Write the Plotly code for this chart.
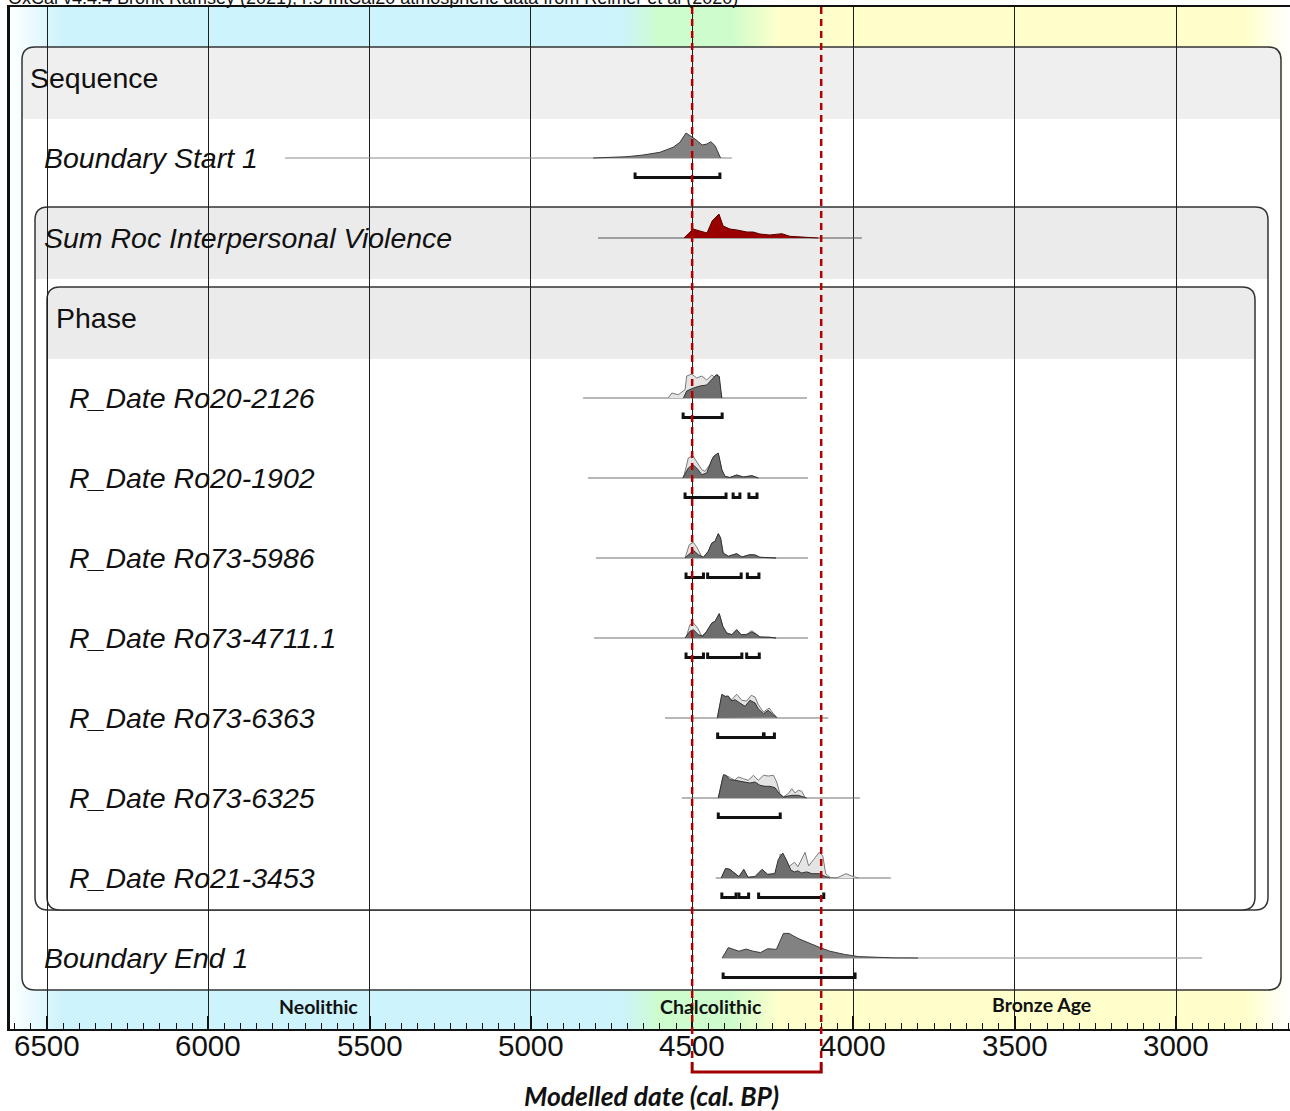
import plotly.graph_objects as go

# ------------------------------------------------------------------ data
AXIS_TICKS = [6500, 6000, 5500, 5000, 4500, 4000, 3500, 3000]
X_RANGE = [6614.7, 2646.7]          # cal BP shown from left to right edge
HIGHLIGHT = [4500, 4100]            # red dashed interval (cal BP)

ERAS = ["Neolithic", "Chalcolithic", "Bronze Age"]
ERA_LABEL_X = [5657, 4442, 3418]
ERA_STOP_YEARS = [6615, 6450, 4720, 4600, 4380, 4230, 2780, 2647]
ERA_STOP_COLORS = ["#ffffff", "#cdf3fc", "#cdf3fc", "#cdfccd",
                   "#cefccc", "#ffffcc", "#ffffcc", "#ffffff"]

HEADER_TEXT = ("OxCal v4.4.4 Bronk Ramsey (2021); r:5 IntCal20 atmospheric "
               "data from Reimer et al (2020)")

# Boundary Start 1
BS_SPAN = [5762, 4377]
BS_YR = [4807, 4702, 4652, 4600, 4559, 4538, 4519, 4491, 4469, 4454, 4442, 4429, 4412]
BS_P = [0, 1.3, 3, 5.7, 10.7, 15.7, 25, 19, 13, 14, 16.3, 12.3, 0]
BS_HPD = [(4677, 4414)]

# Sum Roc Interpersonal Violence
SUM_SPAN = [4792, 3974]
SUM_YR = [4525, 4497, 4476, 4454, 4438, 4417, 4404, 4383, 4361, 4330, 4311, 4290,
          4259, 4222, 4197, 4144, 4110]
SUM_P = [0, 9, 7, 5, 17, 24, 12, 9, 8, 6, 6, 4, 3, 4.3, 1.7, 0.3, 0]

# R_Date Ro20-2126
R1_SPAN = [4838, 4144]
R1_LIK_YR = [4574, 4563, 4543, 4522, 4517, 4501, 4486, 4470, 4455, 4439, 4431, 4422, 4408]
R1_LIK_P = [0, 5, 3.3, 8.3, 22, 24, 20, 22, 18, 23, 21, 24, 0]
R1_POST_YR = [4527, 4517, 4496, 4476, 4455, 4439, 4426, 4416, 4408]
R1_POST_P = [0, 7, 10, 12, 13, 18, 23, 21.7, 0]
R1_HPD = [(4528, 4407)]

# R_Date Ro20-1902
R2_SPAN = [4823, 4141]
R2_LIK_YR = [4527, 4512, 4498, 4486, 4470, 4460, 4445, 4434, 4419, 4408, 4401, 4383, 4362,
             4341, 4315, 4295]
R2_LIK_P = [0, 20, 22.3, 16.7, 8.3, 6.7, 13.3, 21.7, 24, 8.3, 1.7, 0.5, 3, 1, 2.3, 0]
R2_POST_YR = [4529, 4512, 4498, 4486, 4470, 4455, 4439, 4431, 4419, 4408, 4398, 4383, 4362,
              4341, 4315, 4295]
R2_POST_P = [0, 10, 13.3, 10, 3.3, 5, 18.3, 22.3, 25, 8.3, 1.7, 0.5, 3, 1, 2.3, 0]
R2_HPD = [(4522, 4395), (4373, 4352), (4324, 4299)]

# R_Date Ro73-5986
R3_SPAN = [4798, 4141]
R3_LIK_YR = [4522, 4509, 4496, 4484, 4470, 4465, 4450, 4439, 4429, 4419, 4412, 4404, 4388,
             4362, 4346, 4321, 4305, 4290, 4259, 4240]
R3_LIK_P = [0, 13.3, 15.7, 10, 1, 0.7, 6.7, 15, 16.7, 24.3, 20, 5, 1.7, 4.3, 1, 3.3, 3, 0.7, 0.3, 0]
R3_POST_YR = [4522, 4507, 4496, 4481, 4465, 4450, 4439, 4429, 4419, 4412, 4404, 4388, 4362,
              4346, 4321, 4305, 4290, 4259, 4240]
R3_POST_P = [0, 5, 7.7, 3.3, 0.7, 6.7, 15, 16.7, 24.3, 20, 5, 1.7, 4.3, 1, 3.3, 3, 0.7, 0.3, 0]
R3_HPD = [(4519, 4465), (4452, 4348), (4329, 4293)]

# R_Date Ro73-4711.1
R4_SPAN = [4804, 4141]
R4_LIK_YR = [4519, 4507, 4496, 4483, 4470, 4455, 4439, 4429, 4416, 4405, 4393, 4377, 4362,
             4348, 4331, 4315, 4300, 4290, 4259, 4240]
R4_LIK_P = [0, 13.3, 15, 10, 1.7, 6.7, 15, 16.7, 24.3, 11.7, 5, 3.3, 8.3, 3.3, 3.8, 7.3, 3.8, 1, 0.7, 0]
R4_POST_YR = [4522, 4507, 4496, 4481, 4467, 4455, 4439, 4429, 4416, 4405, 4393, 4377, 4362,
              4348, 4331, 4315, 4300, 4290, 4259, 4240]
R4_POST_P = [0, 6.7, 8.3, 3.3, 1.7, 6.7, 15, 16.7, 24.3, 11.7, 5, 3.3, 8.3, 3.3, 3.3, 6, 3.3, 1, 0.7, 0]
R4_HPD = [(4519, 4465), (4452, 4346), (4331, 4292)]

# R_Date Ro73-6363
R5_SPAN = [4584, 4078]
R5_LIK_YR = [4422, 4408, 4393, 4377, 4362, 4346, 4331, 4317, 4305, 4295, 4279, 4261, 4248, 4236]
R5_LIK_P = [0, 22.7, 21, 18.3, 23.7, 17.7, 17, 22.7, 21, 13.3, 6, 10, 4.3, 0.3]
R5_POST_YR = [4422, 4408, 4398, 4388, 4377, 4367, 4352, 4336, 4321, 4305, 4295, 4279, 4264,
              4248, 4238]
R5_POST_P = [0, 23.7, 21.7, 22, 17, 18.3, 15, 11.7, 17.7, 15, 9.3, 4.3, 7.7, 2.7, 0.3]
R5_HPD = [(4421, 4279), (4277, 4245)]

# R_Date Ro73-6325
R6_SPAN = [4532, 3980]
R6_LIK_YR = [4419, 4405, 4398, 4385, 4369, 4357, 4341, 4326, 4310, 4295, 4279, 4264, 4248,
             4238, 4228, 4217, 4202, 4191, 4181, 4171, 4160, 4150]
R6_LIK_P = [0, 21, 22.7, 21, 17.7, 21, 19.3, 17.7, 22.7, 17.7, 22.7, 22, 22.7, 16, 4.3, 1,
            4.3, 9.3, 5, 7.7, 6.7, 0.3]
R6_POST_YR = [4419, 4403, 4395, 4383, 4367, 4352, 4336, 4321, 4305, 4290, 4274, 4259, 4243,
              4230, 4217, 4191, 4171, 4155, 4145]
R6_POST_P = [0, 23.3, 22.7, 18.3, 17.7, 17, 16, 15, 16, 12.7, 11.7, 11.7, 10.3, 4.3, 1, 2.7,
             2.7, 1, 0]
R6_HPD = [(4419, 4227)]

# R_Date Ro21-3453
R7_SPAN = [4427, 3884]
R7_LIK_YR = [4410, 4396, 4383, 4366, 4355, 4340, 4327, 4305, 4283, 4266, 4244, 4233, 4227,
             4214, 4200, 4183, 4172, 4150, 4139, 4123, 4106, 4095, 4086, 4073, 4052, 4023,
             4001, 3984]
R7_LIK_P = [0, 9.6, 8.6, 4.3, 1.4, 8.6, 0.7, 1.4, 8.6, 3.6, 4.3, 12, 24, 20.4, 11.4, 15.7,
            11.4, 25.7, 12.1, 18.6, 25.7, 22, 4.3, 0.7, 0, 4.3, 1.4, 0]
R7_POST_YR = [4410, 4396, 4383, 4366, 4355, 4340, 4327, 4305, 4283, 4266, 4244, 4233, 4219,
              4206, 4194, 4183, 4172, 4161, 4145, 4128, 4106, 4089, 4073]
R7_POST_P = [0, 9.6, 8.6, 4.3, 1.4, 8.6, 0.7, 1.4, 8.6, 3.6, 4.3, 18.6, 25, 16.8, 7.9, 6.1,
             7.1, 5, 6.1, 4.3, 4.3, 1.8, 0]
R7_HPD = [(4408, 4364), (4355, 4325), (4294, 4092)]

# Boundary End 1
BE_SPAN = [4407, 2919]
BE_YR = [4407, 4388, 4355, 4333, 4311, 4288, 4266, 4239, 4217, 4200, 4172, 4139, 4106, 4073,
         4028, 3984, 3929, 3874, 3800]
BE_P = [0, 10.4, 6.8, 8.9, 6.8, 5.4, 9.3, 8.6, 24.6, 24.6, 19.6, 15, 10.7, 6.8, 3.6, 1.4,
        0.4, 0.1, 0]
BE_HPD = [(4404, 3995)]

R_LABELS = ["R_Date Ro20-2126", "R_Date Ro20-1902", "R_Date Ro73-5986",
            "R_Date Ro73-4711.1", "R_Date Ro73-6363", "R_Date Ro73-6325",
            "R_Date Ro21-3453"]

# ------------------------------------------------------------------ layout helpers
FIG_W, FIG_H = 1290, 1111
PL, PT, PB = 10, 7, 1029            # plot area: left px, top px, bottom px
ROW0, ROW_STEP = 158, 80            # row baselines (y axis is in pixel rows)
P_SCALE = 1.0                        # px per probability unit
HPD_OFF, HPD_TICK = 19.5, 5

def px_year(px):
    return X_RANGE[0] + (px - PL) * (X_RANGE[1] - X_RANGE[0]) / (FIG_W - PL)

def year_paper(yr):
    return (yr - X_RANGE[0]) / (X_RANGE[1] - X_RANGE[0])

def py_paper(py):
    return (PB - py) / (PB - PT)

def hexrgb(h):
    h = h.lstrip('#')
    return [int(h[i:i + 2], 16) for i in (0, 2, 4)]

def era_color(yr):
    ys, cs = ERA_STOP_YEARS, ERA_STOP_COLORS
    for i in range(len(ys) - 1):
        if ys[i] >= yr >= ys[i + 1]:
            t = (ys[i] - yr) / (ys[i] - ys[i + 1])
            a, b = hexrgb(cs[i]), hexrgb(cs[i + 1])
            c = [round(a[k] + (b[k] - a[k]) * t) for k in range(3)]
            return "rgb(%d,%d,%d)" % tuple(c)
    return cs[-1]

def rrect(x0, x1, y0, y1, r, square_bottom=False):
    X = px_year
    p = f"M {X(x0)},{y0 + r} Q {X(x0)},{y0} {X(x0 + r)},{y0} L {X(x1 - r)},{y0} "
    p += f"Q {X(x1)},{y0} {X(x1)},{y0 + r} "
    if square_bottom:
        p += f"L {X(x1)},{y1} L {X(x0)},{y1} Z"
    else:
        p += (f"L {X(x1)},{y1 - r} Q {X(x1)},{y1} {X(x1 - r)},{y1} "
              f"L {X(x0 + r)},{y1} Q {X(x0)},{y1} {X(x0)},{y1 - r} Z")
    return p

shapes = []
# era background gradient
STEP = 12
yr = ERA_STOP_YEARS[0]
while yr > ERA_STOP_YEARS[-1] - STEP:
    shapes.append(dict(type="rect", xref="x", yref="y", x0=yr + 1, x1=yr - STEP - 1,
                       y0=PT, y1=PB, line=dict(width=0), fillcolor=era_color(yr - STEP / 2),
                       layer="below"))
    yr -= STEP

BOXES = [  # x0, x1, y0, y1, header bottom, header color
    (22, 1281, 47, 990, 119, "#efefef"),
    (35, 1268, 207, 910, 279, "#ebebeb"),
    (47, 1255, 287, 910, 359, "#ebebeb"),
]
for x0, x1, y0, y1, hb, hc in BOXES:
    shapes.append(dict(type="path", xref="x", yref="y", path=rrect(x0, x1, y0, y1, 13),
                       fillcolor="white", line=dict(width=0), layer="below"))
    shapes.append(dict(type="path", xref="x", yref="y",
                       path=rrect(x0, x1, y0, hb, 13, square_bottom=True),
                       fillcolor=hc, line=dict(width=0), layer="below"))
    shapes.append(dict(type="path", xref="x", yref="y", path=rrect(x0, x1, y0, y1, 13),
                       fillcolor="rgba(0,0,0,0)", line=dict(width=1.5, color="#333333"),
                       layer="below"))

# red dashed interval lines + bracket under the axis
for h in HIGHLIGHT:
    shapes.append(dict(type="line", xref="paper", yref="paper", x0=year_paper(h),
                       x1=year_paper(h), y0=py_paper(PT), y1=py_paper(1063),
                       line=dict(color="#b20000", width=2.5, dash="7px,5px"), layer="above"))
shapes.append(dict(type="path", xref="paper", yref="paper", layer="above",
                   path=(f"M {year_paper(HIGHLIGHT[0])},{py_paper(1062)} "
                         f"L {year_paper(HIGHLIGHT[0])},{py_paper(1072)} "
                         f"L {year_paper(HIGHLIGHT[1])},{py_paper(1072)} "
                         f"L {year_paper(HIGHLIGHT[1])},{py_paper(1062)}"),
                   line=dict(color="#a00000", width=3)))

fig = go.Figure()

def add_curve(yrs, ps, base, fill, line):
    fig.add_trace(go.Scatter(x=yrs, y=[base - p * P_SCALE for p in ps], mode="lines",
                             fill="toself", fillcolor=fill,
                             line=dict(color=line, width=1), hoverinfo="skip",
                             showlegend=False))

def add_span(span, base, color="#707070"):
    fig.add_trace(go.Scatter(x=span, y=[base, base], mode="lines",
                             line=dict(color=color, width=1), hoverinfo="skip",
                             showlegend=False))

def add_hpd(ranges, base):
    yb = base + HPD_OFF
    for a, b in ranges:
        fig.add_trace(go.Scatter(x=[a, a, b, b], y=[yb - HPD_TICK, yb, yb, yb - HPD_TICK],
                                 mode="lines", line=dict(color="#111111", width=3),
                                 hoverinfo="skip", showlegend=False))

LIGHT, LIGHT_LINE = "#e4e4e4", "#7a7a7a"
DARK, DARK_LINE = "#6e6e6e", "#333333"

# Boundary start
b = ROW0
add_span(BS_SPAN, b, "#8a8a8a")
add_curve(BS_YR, BS_P, b, "#828282", "#3a3a3a")
add_hpd(BS_HPD, b)
# Sum
b = ROW0 + ROW_STEP
add_span(SUM_SPAN, b, "#555555")
add_curve(SUM_YR, SUM_P, b, "#990000", "#5a0000")

R_SPANS = [R1_SPAN, R2_SPAN, R3_SPAN, R4_SPAN, R5_SPAN, R6_SPAN, R7_SPAN]
R_LIK = [(R1_LIK_YR, R1_LIK_P), (R2_LIK_YR, R2_LIK_P), (R3_LIK_YR, R3_LIK_P),
         (R4_LIK_YR, R4_LIK_P), (R5_LIK_YR, R5_LIK_P), (R6_LIK_YR, R6_LIK_P),
         (R7_LIK_YR, R7_LIK_P)]
R_POST = [(R1_POST_YR, R1_POST_P), (R2_POST_YR, R2_POST_P), (R3_POST_YR, R3_POST_P),
          (R4_POST_YR, R4_POST_P), (R5_POST_YR, R5_POST_P), (R6_POST_YR, R6_POST_P),
          (R7_POST_YR, R7_POST_P)]
R_HPD = [R1_HPD, R2_HPD, R3_HPD, R4_HPD, R5_HPD, R6_HPD, R7_HPD]

for i in range(7):
    b = ROW0 + ROW_STEP * (3 + i)
    add_span(R_SPANS[i], b)
    add_curve(*R_LIK[i], b, LIGHT, LIGHT_LINE)
    add_curve(*R_POST[i], b, DARK, DARK_LINE)
    add_hpd(R_HPD[i], b)

# Boundary end
b = ROW0 + ROW_STEP * 10
add_span(BE_SPAN, b, "#8a8a8a")
add_curve(BE_YR, BE_P, b, "#828282", "#3a3a3a")
add_hpd(BE_HPD, b)

# ------------------------------------------------------------------ annotations
ann = []
SANS = "Liberation Sans, Arial, sans-serif"
LBL = dict(family=SANS, size=28.5, color="#111111")

def label(text, px, py, italic=True):
    f = dict(LBL)
    if italic:
        f["style"] = "italic"
    ann.append(dict(text=text, x=px_year(px), y=py, xref="x", yref="y", xanchor="left",
                    yanchor="middle", showarrow=False, font=f))

label("Sequence", 28, 78, italic=False)
label("Boundary Start 1", 42, ROW0)
label("Sum Roc Interpersonal Violence", 42, ROW0 + ROW_STEP)
label("Phase", 54, ROW0 + 2 * ROW_STEP, italic=False)
for i, t in enumerate(R_LABELS):
    label(t, 67, ROW0 + ROW_STEP * (3 + i))
label("Boundary End 1", 42, ROW0 + ROW_STEP * 10)

ERA_Y = [1006, 1006, 1004]
for t, xx, yy in zip(ERAS, ERA_LABEL_X, ERA_Y):
    ann.append(dict(text=t, x=xx, y=yy, xref="x", yref="y", showarrow=False,
                    yanchor="middle",
                    font=dict(family="Lato, sans-serif", size=19.5, color="#111111",
                              weight="bold")))

# tick labels
for t in AXIS_TICKS:
    ann.append(dict(text=str(t), x=t, y=py_paper(1045), xref="x", yref="paper",
                    showarrow=False, yanchor="middle", xanchor="center",
                    font=dict(family=SANS, size=29.5, color="#111111")))

ann.append(dict(text="Modelled date (cal. BP)", x=(651 - PL) / (FIG_W - PL), y=py_paper(1095.5),
                xref="paper", yref="paper", showarrow=False, yanchor="middle",
                font=dict(family="Lato, sans-serif", size=26.5, color="#111111",
                          weight="bold", style="italic")))
ann.append(dict(text=HEADER_TEXT, x=(6 - PL) / (FIG_W - PL), y=py_paper(-2), xref="paper",
                yref="paper", xanchor="left", yanchor="middle", showarrow=False,
                font=dict(family=SANS, size=18, color="#111111")))

fig.update_layout(
    width=FIG_W, height=FIG_H,
    margin=dict(l=PL, r=0, t=PT, b=FIG_H - PB, pad=0),
    paper_bgcolor="white", plot_bgcolor="white",
    shapes=shapes, annotations=ann, showlegend=False,
    xaxis=dict(range=X_RANGE, tickmode="array", tickvals=AXIS_TICKS,
               showticklabels=False,
               showgrid=True, gridcolor="#1e1e1e", gridwidth=1.2,
               ticks="inside", ticklen=13, tickwidth=1.5, tickcolor="#111111",
               minor=dict(dtick=50, tick0=0, ticks="inside", ticklen=6, tickwidth=1,
                          tickcolor="#111111", showgrid=False),
               showline=True, linecolor="#111111", linewidth=2, mirror=True,
               zeroline=False),
    yaxis=dict(range=[PB, PT], showgrid=False, zeroline=False, showticklabels=False,
               ticks="", showline=True, linecolor="#111111", linewidth=3),
)

fig.write_html("out.html", config={"displayModeBar": False},
               post_script="document.body.style.margin='0px';")
